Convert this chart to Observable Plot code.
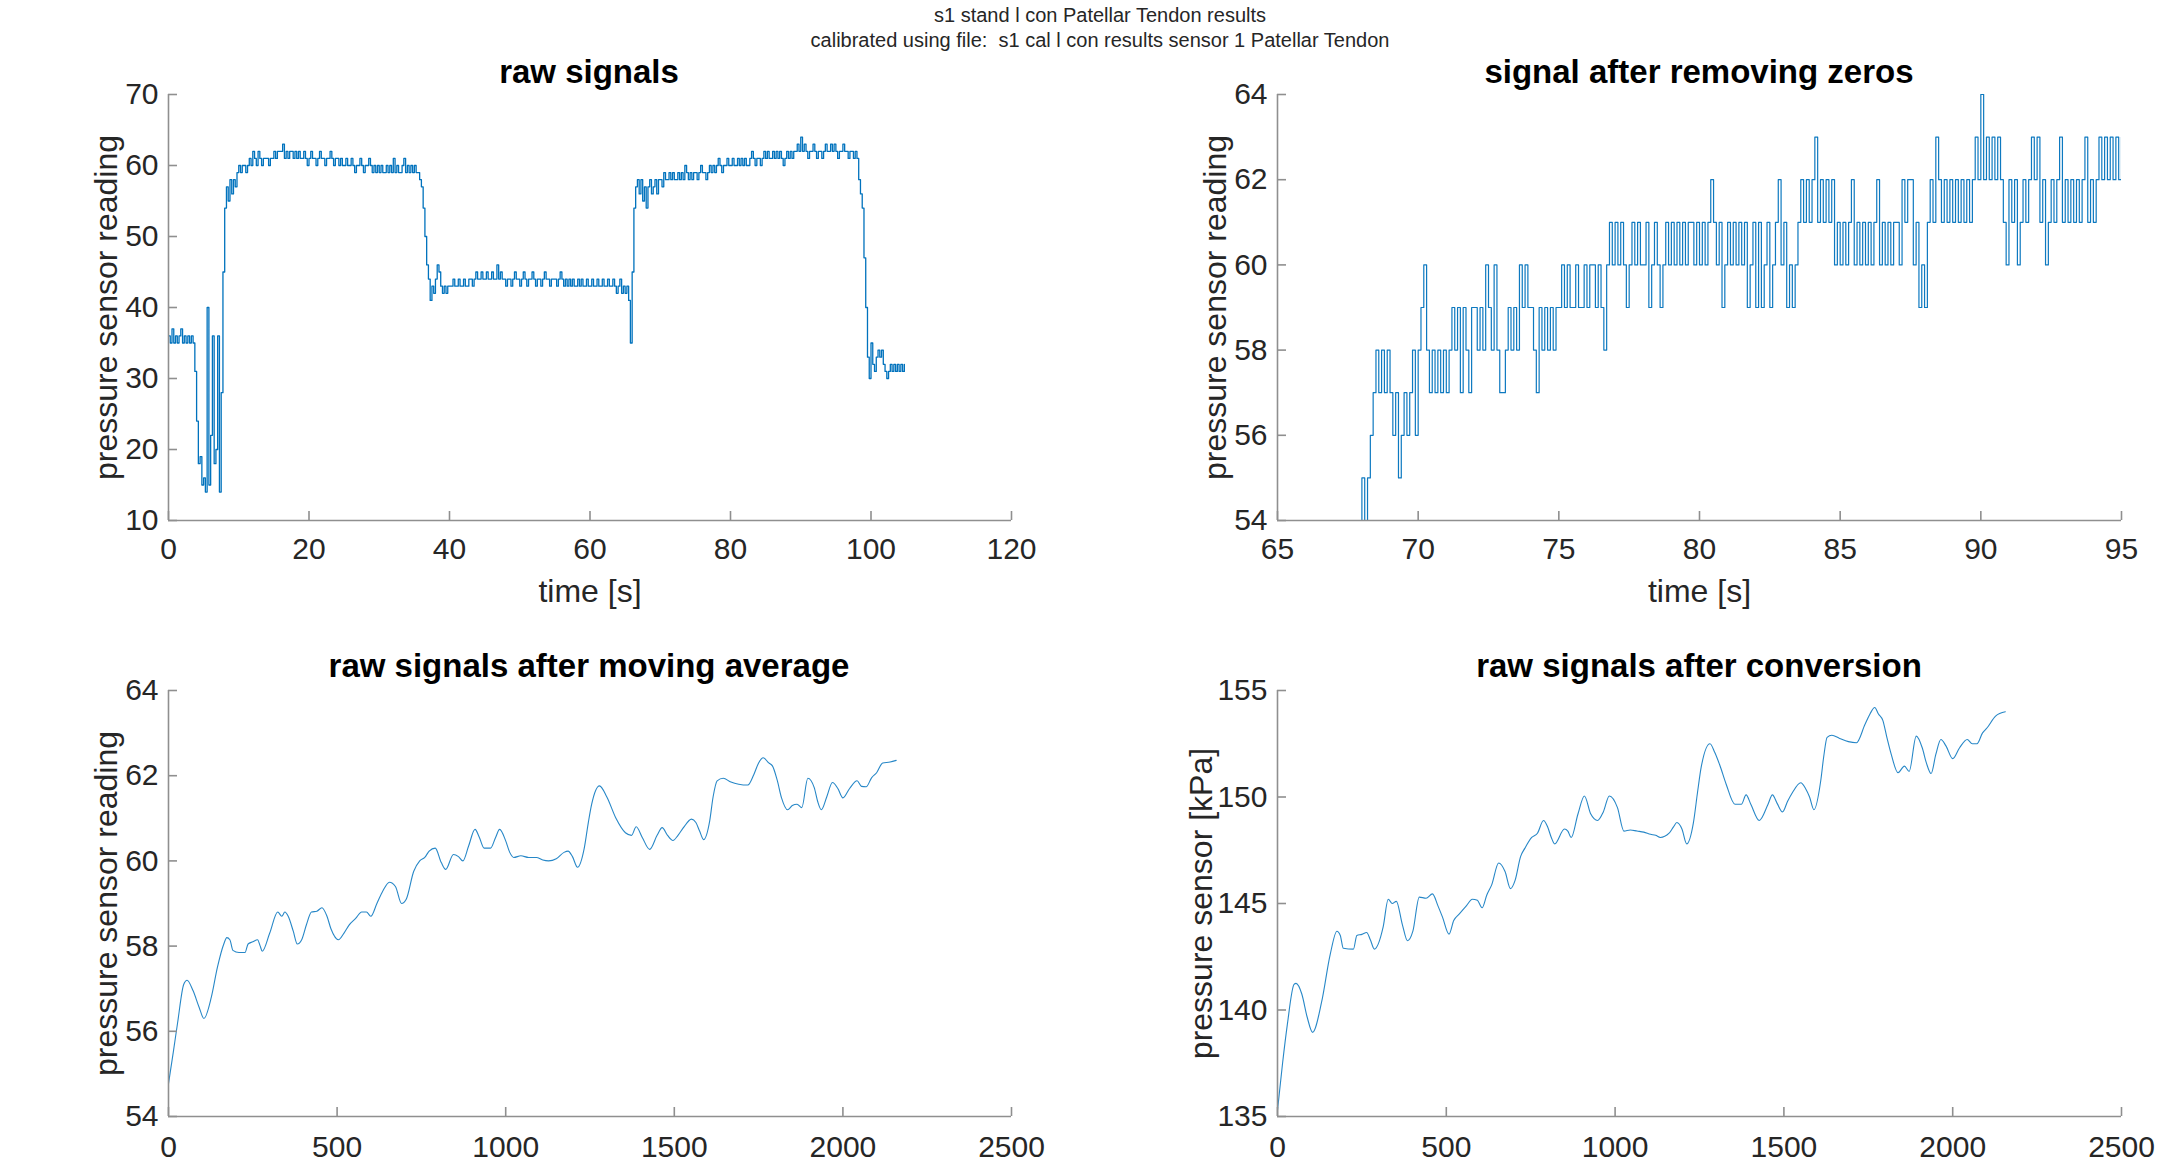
<!DOCTYPE html>
<html>
<head>
<meta charset="utf-8">
<script src="https://cdn.jsdelivr.net/npm/d3@7"></script>
<script src="https://cdn.jsdelivr.net/npm/@observablehq/plot@0.6"></script>
<style>
  html, body { margin: 0; padding: 0; background: #fff; }
  #page { position: relative; width: 2183px; height: 1157px; overflow: hidden; background: #fff;
          font-family: "Liberation Sans", Arial, Helvetica, sans-serif; }
  .panel { position: absolute; }
  .panel svg { display: block; max-width: none !important; }
  .sup { position: absolute; left: 0; width: 2200px; text-align: center; font-size: 20px; color: #262626; line-height: 1; white-space: pre; }
  .ttl { position: absolute; font-weight: bold; font-size: 33px; color: #000; line-height: 1; white-space: nowrap; transform: translate(-50%, -50%); }
</style>
</head>
<body>
<div id="page"></div>
<script>
// ---------------- texts ----------------
const suptitle1 = "s1 stand l con Patellar Tendon results";
const suptitle2 = "calibrated using file:  s1 cal l con results sensor 1 Patellar Tendon";
const panelTitles = ["raw signals", "signal after removing zeros", "raw signals after moving average", "raw signals after conversion"];
const yLabels = ["pressure sensor reading", "pressure sensor reading", "pressure sensor reading", "pressure sensor [kPa]"];
const xLabel = "time [s]";

// ---------------- tick labels ----------------
const rawXTicks = [0, 20, 40, 60, 80, 100, 120];
const rawYTicks = [10, 20, 30, 40, 50, 60, 70];
const zerosXTicks = [65, 70, 75, 80, 85, 90, 95];
const zerosYTicks = [54, 56, 58, 60, 62, 64];
const sampleXTicks = [0, 500, 1000, 1500, 2000, 2500];
const avgYTicks = [54, 56, 58, 60, 62, 64];
const kpaYTicks = [135, 140, 145, 150, 155];

// ---------------- panel 1: raw signal, sampled every 0.25 s from t = 0 ----------------
const rawStart = 0, rawStep = 0.25;
const rawValues = [
  36,35,37,35,36,35,36,37,35,36,35,36,35,36,35,31,24,18,19,15,
  16,14,40,15,22,36,18,20,36,14,28,45,54,57,55,58,56,58,57,59,
  60,59,60,60,59,60,61,60,62,61,60,62,61,60,61,61,61,60,61,61,
  62,61,62,62,62,63,61,62,61,62,62,61,62,61,62,61,61,62,61,60,
  61,62,61,61,60,61,62,61,61,60,61,61,62,61,60,61,61,60,61,60,
  60,61,60,60,61,60,59,60,60,61,60,59,60,60,61,60,59,60,59,60,
  59,60,59,59,60,59,60,59,61,59,60,59,59,60,61,59,60,59,60,59,
  60,59,59,58,57,54,50,46,44,41,43,42,44,46,45,43,42,43,42,43,
  43,43,44,43,43,44,43,43,44,43,43,44,44,43,44,45,44,44,45,44,
  44,45,44,44,45,44,44,46,44,45,44,44,43,44,44,43,44,45,44,44,
  43,44,45,44,43,44,44,45,44,43,44,44,43,44,45,44,44,43,44,44,
  44,43,44,45,44,43,44,43,44,43,44,43,43,44,43,44,43,43,44,43,
  43,44,43,43,44,43,43,44,43,43,44,43,43,44,43,42,43,44,42,43,
  42,43,41,35,45,54,57,58,56,58,55,57,54,57,58,56,57,58,56,58,
  58,57,59,58,58,59,58,59,58,58,59,58,59,58,60,59,58,59,58,59,
  59,58,59,60,59,59,58,59,60,59,60,59,60,61,60,59,60,60,61,60,
  60,61,60,60,61,60,61,60,61,60,60,61,62,61,60,61,61,60,61,62,
  61,62,61,61,62,61,62,61,62,61,60,61,62,61,62,61,62,62,63,62,
  64,62,63,62,61,62,62,63,62,61,62,62,61,62,63,62,62,63,62,63,
  62,61,62,62,63,62,62,61,62,62,61,62,61,58,56,54,47,40,33,30,
  35,32,31,33,34,33,34,32,31,30,31,32,31,32,31,32,31,32,31,32
];

// ---------------- panel 2: after removing zeros, sampled every 0.1 s from t = 67.9 ----------------
const zerosStart = 67.9, zerosStep = 0.1;
const zerosValues = [
  53,
  55,53,55,56,57,58,57,58,57,58,
  57,56,57,55,56,57,56,57,58,56,
  58,59,60,58,57,58,57,58,57,58,
  57,58,59,58,59,57,59,58,57,59,
  59,58,59,58,60,59,58,60,58,57,
  57,58,59,58,59,58,60,59,60,59,
  59,58,57,59,58,59,58,59,58,59,
  59,60,59,60,59,59,60,59,59,60,
  59,60,60,59,60,59,58,60,61,60,
  61,60,61,60,59,60,61,60,61,60,
  60,61,59,60,61,60,59,60,61,60,
  61,60,61,60,61,60,61,61,60,61,
  60,61,60,61,62,61,60,61,59,60,
  61,60,61,60,61,60,61,59,60,61,
  59,61,59,60,61,59,60,61,62,60,
  61,59,60,59,60,61,62,61,62,61,
  62,63,61,62,61,62,61,62,60,61,
  60,61,60,61,62,60,61,60,61,60,
  61,60,61,62,60,61,60,61,60,61,
  61,60,62,61,62,62,60,61,59,60,
  59,61,62,61,63,62,61,62,61,62,
  61,62,61,62,61,62,61,62,63,62,
  64,62,63,62,63,62,63,62,61,60,
  62,61,62,60,61,62,61,62,63,62,
  63,61,62,60,61,62,61,62,63,61,
  62,61,62,61,62,61,62,63,61,62,
  61,62,63,62,63,62,63,62,63,62,
  63
];

// ---------------- panel 3: moving average (sample index, reading) ----------------
const avgSample = [0,14,27,45,55,73,91,105,127,145,164,173,182,191,209,227,236,250,264,272,278,300,324,336,345,355,370,382,395,409,424,440,455,470,482,504,520,536,555,573,587,600,618,636,655,673,691,705,727,745,760,773,791,809,822,845,860,873,890,909,922,936,955,970,982,1000,1012,1024,1045,1068,1091,1110,1127,1150,1173,1185,1198,1213,1233,1245,1255,1278,1300,1327,1355,1373,1387,1405,1427,1449,1464,1480,1496,1511,1527,1551,1564,1575,1587,1605,1615,1627,1645,1668,1691,1718,1736,1750,1764,1780,1791,1805,1818,1836,1850,1864,1878,1896,1915,1925,1936,1952,1969,1985,2000,2020,2042,2055,2069,2085,2100,2118,2140,2158];
const avgValue = [54.77,55.5,56.2,57.1,57.2,56.95,56.56,56.3,56.8,57.5,58.05,58.2,58.15,57.9,57.85,57.85,58.05,58.1,58.15,58.0,57.88,58.3,58.8,58.7,58.8,58.7,58.35,58.05,58.15,58.5,58.8,58.82,58.9,58.7,58.4,58.15,58.3,58.5,58.65,58.8,58.8,58.7,59.0,59.3,59.5,59.4,59.0,59.1,59.75,60.0,60.08,60.23,60.3,59.96,59.8,60.15,60.1,60.0,60.35,60.74,60.55,60.3,60.3,60.55,60.74,60.47,60.2,60.08,60.12,60.08,60.08,60.02,60.0,60.05,60.2,60.23,60.1,59.85,60.3,60.9,61.33,61.76,61.5,61.0,60.66,60.6,60.8,60.55,60.27,60.6,60.78,60.6,60.48,60.6,60.78,60.98,60.9,60.7,60.5,60.94,61.5,61.88,61.94,61.85,61.8,61.78,62.03,62.3,62.42,62.3,62.23,61.9,61.48,61.2,61.3,61.33,61.25,61.94,61.72,61.4,61.2,61.5,61.84,61.7,61.48,61.7,61.88,61.75,61.74,61.95,62.07,62.3,62.32,62.36];

// ---------------- panel 4: after conversion (sample index, kPa) ----------------
const kpaSample = [0,15,29,49,55,72,88,104,131,156,176,186,195,225,235,250,264,275,287,313,328,340,352,370,385,401,420,440,459,475,489,508,522,538,560,577,592,606,620,635,655,674,690,704,720,733,753,770,788,800,811,821,850,860,870,890,909,928,948,965,983,1007,1026,1045,1065,1085,1105,1120,1134,1160,1173,1183,1198,1212,1232,1244,1255,1281,1295,1310,1329,1355,1374,1388,1402,1427,1453,1466,1480,1496,1511,1525,1550,1564,1576,1589,1609,1618,1628,1642,1665,1691,1715,1740,1755,1769,1780,1793,1805,1818,1838,1857,1871,1892,1910,1922,1936,1950,1965,1980,2000,2020,2043,2058,2072,2088,2102,2127,2156];
const kpaValue = [135.3,137.5,139.3,141.2,141.25,140.75,139.66,138.95,140.4,142.6,143.7,143.5,142.9,142.86,143.5,143.55,143.64,143.3,142.86,143.9,145.2,145.0,145.1,144.0,143.25,143.7,145.3,145.25,145.45,144.9,144.35,143.56,144.2,144.5,144.9,145.2,145.15,144.8,145.4,145.9,146.9,146.5,145.7,146.1,147.2,147.6,148.1,148.3,148.9,148.6,148.1,147.8,148.5,148.4,148.1,149.2,150.05,149.2,148.9,149.3,150.05,149.5,148.4,148.45,148.4,148.35,148.25,148.2,148.1,148.3,148.6,148.8,148.5,147.8,148.8,150.2,151.4,152.5,152.1,151.5,150.6,149.66,149.66,150.1,149.66,148.9,149.66,150.1,149.7,149.3,149.8,150.2,150.67,150.4,150.0,149.4,150.75,151.9,152.8,152.9,152.75,152.6,152.55,153.4,153.9,154.2,153.9,153.6,152.8,152.0,151.14,151.45,151.2,152.86,152.3,151.6,151.1,152.0,152.7,152.4,151.8,152.3,152.7,152.5,152.5,153.0,153.25,153.8,154.0];

// ---------------- build tables ----------------
const rawData = rawValues.map((v, i) => ({x: rawStart + i * rawStep, y: v}));
const zerosData = zerosValues.map((v, i) => ({x: zerosStart + i * zerosStep, y: v}));
const avgData = avgSample.map((s, i) => ({x: s, y: avgValue[i]}));
const kpaData = kpaSample.map((s, i) => ({x: s, y: kpaValue[i]}));

const axisColor = "#8f8f8f";
const textColor = "#262626";
const lineColor = "#0072BD";

function makePanel(cfg) {
  const frameW = cfg.width - cfg.mL - cfg.mR;
  const frameH = cfg.height - cfg.mT - cfg.mB;
  const fmt = d => String(d);
  const marks = [
    Plot.line(cfg.data, {x: "x", y: "y", stroke: lineColor, strokeWidth: cfg.sw, strokeOpacity: cfg.so, curve: cfg.curve, clip: true}),
    Plot.ruleY([cfg.yDomain[0]], {stroke: axisColor, strokeWidth: 1.6}),
    Plot.ruleX([cfg.xDomain[0]], {stroke: axisColor, strokeWidth: 1.6}),
    Plot.ruleX(cfg.xTicks, {x: d => d, insetTop: frameH - 9, stroke: axisColor, strokeWidth: 1.6}),
    Plot.ruleY(cfg.yTicks, {y: d => d, insetRight: frameW - 9, stroke: axisColor, strokeWidth: 1.6}),
    Plot.axisX(cfg.xTicks, {tickSize: 0, tickPadding: cfg.xPad, tickFormat: fmt, fontSize: 30, label: null}),
    Plot.axisY(cfg.yTicks, {tickSize: 0, tickPadding: 10, tickFormat: fmt, fontSize: 30, label: null}),
    Plot.text([cfg.ylabel], {frameAnchor: "left", rotate: -90, textAnchor: "middle", dx: -cfg.ylabelOffset, lineAnchor: "top", fontSize: 32, fill: textColor})
  ];
  if (cfg.xlabel) marks.push(Plot.text([cfg.xlabel], {frameAnchor: "bottom", textAnchor: "middle", dy: 81, lineAnchor: "bottom", fontSize: 32, fill: textColor}));
  const svg = Plot.plot({
    width: cfg.width, height: cfg.height,
    marginLeft: cfg.mL, marginRight: cfg.mR, marginTop: cfg.mT, marginBottom: cfg.mB,
    style: {fontFamily: '"Liberation Sans", Arial, Helvetica, sans-serif', fontSize: "30px", color: textColor, background: "transparent", overflow: "visible"},
    x: {domain: cfg.xDomain, label: null},
    y: {domain: cfg.yDomain, label: null},
    marks
  });
  const wrap = document.createElement("div");
  wrap.className = "panel";
  wrap.style.left = cfg.left + "px";
  wrap.style.top = cfg.top + "px";
  wrap.style.width = cfg.width + "px";
  wrap.appendChild(svg);
  return wrap;
}

const page = document.getElementById("page");

page.appendChild(makePanel({left: 0, top: 80, width: 1060, height: 540, mL: 168, mR: 49, mT: 14, mB: 100,
  xDomain: [0, 120], yDomain: [10, 70], xTicks: rawXTicks, yTicks: rawYTicks, data: rawData, xPad: 17,
  sw: 1.3, so: 1, curve: "step-after", ylabel: yLabels[0], ylabelOffset: 74, xlabel: xLabel}));
page.appendChild(makePanel({left: 1100, top: 80, width: 1083, height: 540, mL: 177, mR: 62, mT: 14, mB: 100,
  xDomain: [65, 95], yDomain: [54, 64], xTicks: zerosXTicks, yTicks: zerosYTicks, data: zerosData, xPad: 17,
  sw: 1.2, so: 0.95, curve: "step-after", ylabel: yLabels[1], ylabelOffset: 74, xlabel: xLabel}));
page.appendChild(makePanel({left: 0, top: 676, width: 1060, height: 540, mL: 168, mR: 49, mT: 14, mB: 100,
  xDomain: [0, 2500], yDomain: [54, 64], xTicks: sampleXTicks, yTicks: avgYTicks, data: avgData, xPad: 19,
  sw: 1.1, so: 0.85, curve: "monotone-x", ylabel: yLabels[2], ylabelOffset: 74, xlabel: null}));
page.appendChild(makePanel({left: 1100, top: 676, width: 1083, height: 540, mL: 177, mR: 62, mT: 14, mB: 100,
  xDomain: [0, 2500], yDomain: [135, 155], xTicks: sampleXTicks, yTicks: kpaYTicks, data: kpaData, xPad: 19,
  sw: 1.1, so: 0.85, curve: "monotone-x", ylabel: yLabels[3], ylabelOffset: 88, xlabel: null}));

// suptitle
const s1 = document.createElement("div"); s1.className = "sup"; s1.style.top = "5px"; s1.textContent = suptitle1; page.appendChild(s1);
const s2 = document.createElement("div"); s2.className = "sup"; s2.style.top = "30px"; s2.textContent = suptitle2; page.appendChild(s2);

// panel titles
const titlePos = [[589, 71], [1699, 71], [589, 665], [1699, 665]];
panelTitles.forEach((t, i) => {
  const d = document.createElement("div");
  d.className = "ttl";
  d.style.left = titlePos[i][0] + "px";
  d.style.top = titlePos[i][1] + "px";
  d.textContent = t;
  page.appendChild(d);
});
</script>
</body>
</html>
